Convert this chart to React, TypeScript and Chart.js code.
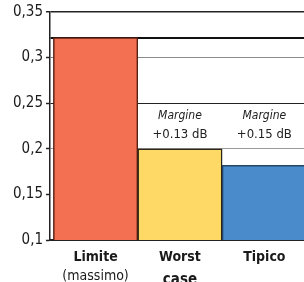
import { useEffect, useRef } from 'react';
import { Chart, registerables } from 'chart.js';

Chart.register(...registerables);

const categories = ['Limite', 'Worst', 'Tipico'];
const subLabels = ['(massimo)', 'case', ''];
const values = [0.322, 0.2, 0.182];
const marginTitles = ['', 'Margine', 'Margine'];
const marginValues = ['', '+0.13 dB', '+0.15 dB'];
const yTickValues = [0.1, 0.15, 0.2, 0.25, 0.3, 0.35];
const marginLineValue = 0.25;

const barColors = ['#F37052', '#FFD966', '#4A8CCB'];
const barBorders = ['#5a2014', '#2b2618', '#24466a'];

const FONT = "'DejaVu Sans Condensed', 'DejaVu Sans', sans-serif";

const fmt = (v: number) => String(Math.round(v * 100) / 100).replace('.', ',');
const same = (a: number, b: number) => Math.abs(a - b) < 1e-6;

const marginPlugin = {
  id: 'marginLabels',
  afterDatasetsDraw(chart: any) {
    const { ctx } = chart;
    const xs = chart.scales.x;
    const ys = chart.scales.y;
    const base = ys.getPixelForValue(marginLineValue);
    ctx.save();
    ctx.fillStyle = '#222';
    ctx.textAlign = 'center';
    ctx.textBaseline = 'middle';
    marginTitles.forEach((t, i) => {
      if (!t) return;
      const x = xs.getPixelForValue(i);
      ctx.font = `italic 12px ${FONT}`;
      ctx.fillText(t, x, base + 13);
      ctx.font = `13px ${FONT}`;
      ctx.fillText(marginValues[i], x, base + 31);
    });
    ctx.restore();
  },
};

export default function App() {
  const ref = useRef<HTMLCanvasElement | null>(null);

  useEffect(() => {
    if (!ref.current) return;
    const allY = [...yTickValues, values[0]].sort((a, b) => a - b);
    const gridColor = (v: number) => {
      if (same(v, 0.35)) return '#222';
      if (same(v, values[0])) return '#111';
      if (same(v, 0.3)) return '#8a8a8a';
      if (same(v, 0.25)) return '#222';
      if (same(v, 0.2)) return '#9a9a9a';
      return 'rgba(0,0,0,0)';
    };
    const xBase = {
      type: 'linear',
      position: 'bottom',
      min: -0.54,
      max: 2.47,
      offset: false,
      bounds: 'data',
      grid: { display: false, drawTicks: false, offset: false },
    };
    const chart = new Chart(ref.current, {
      type: 'bar',
      data: {
        datasets: [
          {
            data: values.map((v, i) => ({ x: i, y: v })),
            backgroundColor: barColors,
            borderColor: barBorders,
            borderWidth: 1.5,
            barPercentage: 1,
            categoryPercentage: 1,
          },
        ],
      },
      options: {
        animation: false,
        responsive: true,
        maintainAspectRatio: false,
        layout: { padding: { top: 12, left: 0, right: 0, bottom: 0 } },
        plugins: { legend: { display: false }, tooltip: { enabled: false } },
        scales: {
          x: {
            ...xBase,
            weight: 0,
            afterBuildTicks: (s: any) => {
              s.ticks = categories.map((_, i) => ({ value: i }));
            },
            afterFit: (s: any) => {
              s.height = 28;
            },
            border: { display: true, color: '#222', width: 2 },
            ticks: {
              autoSkip: false,
              maxRotation: 0,
              padding: 9,
              color: '#1a1a1a',
              font: { family: FONT, size: 14, weight: 'bold', lineHeight: 1.2 },
              callback: (v: any) => categories[Math.round(v)] ?? '',
            },
          },
          x2: {
            ...xBase,
            weight: 1,
            afterBuildTicks: (s: any) => {
              s.ticks = subLabels.map((_, i) => ({ value: i }));
            },
            afterFit: (s: any) => {
              s.height = 32;
            },
            border: { display: false },
            ticks: {
              autoSkip: false,
              maxRotation: 0,
              padding: 0,
              color: '#1a1a1a',
              font: (c: any) => ({
                family: FONT,
                size: c.index === 1 ? 15 : 14,
                weight: c.index === 1 ? 'bold' : 'normal',
                lineHeight: c.index === 1 ? 1.6 : 1.2,
              }),
              callback: (v: any) => subLabels[Math.round(v)] ?? '',
            },
          },
          y: {
            type: 'linear',
            min: 0.1,
            max: 0.35,
            afterBuildTicks: (s: any) => {
              s.ticks = allY.map((v) => ({ value: v }));
            },
            afterFit: (s: any) => {
              s.width = 50;
            },
            border: { display: true, color: '#222', width: 1.5 },
            grid: {
              color: (c: any) => gridColor(c.tick.value),
              lineWidth: (c: any) =>
                same(c.tick.value, 0.35) ? 1.5 : same(c.tick.value, values[0]) ? 2 : 1,
              tickColor: (c: any) => (same(c.tick.value, values[0]) ? 'rgba(0,0,0,0)' : '#222'),
              tickWidth: 1.5,
              tickLength: 4,
            },
            ticks: {
              padding: 3,
              color: '#1a1a1a',
              font: { family: FONT, size: 15 },
              callback: (v: any) => (yTickValues.some((t) => same(t, v)) ? fmt(v) : ''),
            },
          },
        },
      } as any,
      plugins: [marginPlugin],
    });
    return () => chart.destroy();
  }, []);

  return (
    <div
      style={{
        position: 'fixed',
        left: 0,
        top: 0,
        width: 304,
        height: 282,
        overflow: 'hidden',
        background: '#fff',
      }}
    >
      <div style={{ position: 'relative', width: 304, height: 300 }}>
        <canvas ref={ref} />
      </div>
    </div>
  );
}
